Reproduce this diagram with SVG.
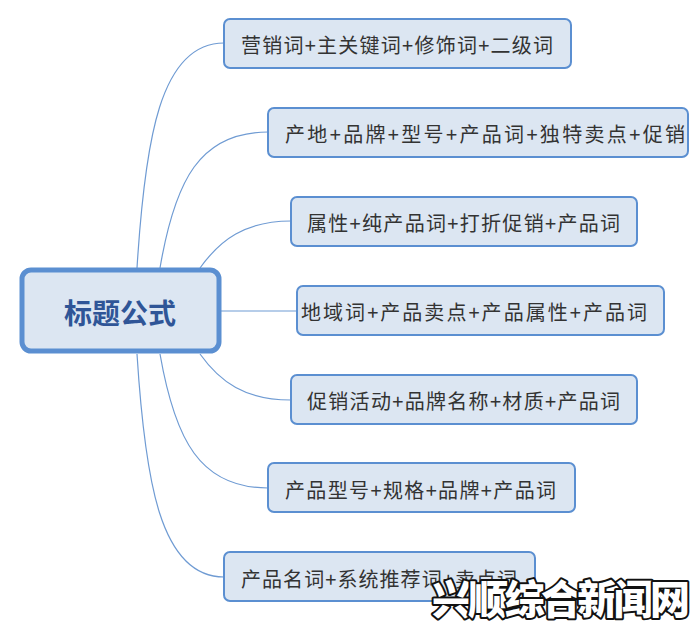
<svg xmlns="http://www.w3.org/2000/svg" width="697" height="632" viewBox="0 0 697 632">
<style>
.n rect{fill:#dce6f2;stroke:#5b8fd1;stroke-width:2}
.n text{font-family:"Noto Sans CJK SC",sans-serif;font-size:20px;fill:#333;dominant-baseline:central}
.c path{fill:none;stroke:#6f9bd3;stroke-width:1.2}
</style>
<rect width="697" height="632" fill="#fff"/>
<g class="c">
<path d="M137,268 C145,140 160,43 224,43"/>
<path d="M160,268 C175,180 200,132 268,132"/>
<path d="M200,268 C220,240 245,221 291,221"/>
<path d="M220,311 L297,311"/>
<path d="M200,354 C220,382 245,400 291,400"/>
<path d="M160,354 C175,440 200,488 268,488"/>
<path d="M137,354 C145,480 160,577 224,577"/>
</g>
<g id="center">
<rect x="22" y="270" width="197" height="81" rx="9" fill="#dce6f2" stroke="#5b8fd1" stroke-width="5"/>
<text x="120" y="312" text-anchor="middle" dominant-baseline="central" font-family="Noto Sans CJK SC,sans-serif" font-weight="bold" font-size="28" fill="#2f5597">标题公式</text>
</g>
<g id="n1" class="n"><rect x="224" y="19" width="347" height="49" rx="6"/><text x="241" y="44" textLength="312" lengthAdjust="spacing">营销词+主关键词+修饰词+二级词</text></g>
<g id="n2" class="n"><rect x="268" y="108" width="420" height="49" rx="6"/><text x="285" y="133" textLength="400" lengthAdjust="spacing">产地+品牌+型号+产品词+独特卖点+促销</text></g>
<g id="n3" class="n"><rect x="291" y="197" width="346" height="49" rx="6"/><text x="307" y="222" textLength="313" lengthAdjust="spacing">属性+纯产品词+打折促销+产品词</text></g>
<g id="n4" class="n"><rect x="297" y="286" width="367" height="49" rx="6"/><text x="301" y="311" textLength="346" lengthAdjust="spacing">地域词+产品卖点+产品属性+产品词</text></g>
<g id="n5" class="n"><rect x="291" y="375" width="346" height="49" rx="6"/><text x="307" y="400" textLength="313" lengthAdjust="spacing">促销活动+品牌名称+材质+产品词</text></g>
<g id="n6" class="n"><rect x="268" y="463" width="307" height="49" rx="6"/><text x="285" y="489" textLength="271" lengthAdjust="spacing">产品型号+规格+品牌+产品词</text></g>
<g id="n7" class="n"><rect x="224" y="552" width="311" height="49" rx="6"/><text x="241" y="578" textLength="276" lengthAdjust="spacing">产品名词+系统推荐词+卖点词</text></g>
<text x="690" y="597" text-anchor="end" dominant-baseline="central" font-family="Noto Sans CJK SC,sans-serif" font-weight="900" font-size="40" fill="#fff" stroke="#111" stroke-width="4" stroke-linejoin="round" paint-order="stroke" textLength="258">兴顺综合新闻网</text>
</svg>
